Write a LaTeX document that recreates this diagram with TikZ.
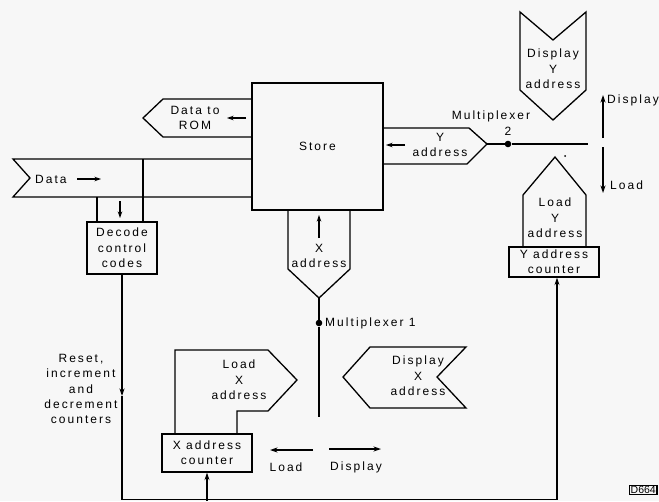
\documentclass[tikz,border=0pt]{standalone}
\usepackage{fontspec}
\newfontfamily\lbf{Liberation Sans}[LetterSpace=17]
\usetikzlibrary{arrows.meta}
\newcommand\diagfont{\lbf\fontsize{12}{15.3}\selectfont}
\tikzset{
  ln/.style={line width=1.3pt, line join=miter},
  box/.style={draw, ln, inner sep=0pt, align=center, font=\diagfont},
  lbl/.style={inner sep=0pt, align=center, font=\diagfont},
  arr/.style={ln, -{Stealth[length=7.5pt,width=5pt]}},
  sarr/.style={ln, -{Stealth[length=6.5pt,width=4.5pt]}},
  dot/.style={circle, fill, inner sep=0pt, minimum size=6.6pt},
}
\begin{document}
\begin{tikzpicture}[x=1pt,y=-1pt]
\fill[black!3] (0,0) rectangle (659,501);
\useasboundingbox (0,0) rectangle (659,501);

% Store
\node[box, minimum width=131pt, minimum height=127pt] (store) at (317.5,146.5) {Store};

% Data to ROM
\draw[ln] (252,99) -- (163,99) -- (143,118) -- (163,137) -- (252,137);
\node[lbl] (dtr) at (195,118) {Data to\\ROM};
\coordinate (dtrA) at (246,118); \coordinate (dtrB) at (227,118);
\draw[sarr] (dtrA) -- (dtrB);

% Data band
\draw[ln] (252,159) -- (13,159) -- (30,178) -- (13,197) -- (252,197);
\node[lbl, anchor=west] (data) at (35,179) {Data};
\coordinate (daA) at (77,179); \coordinate (daB) at (101,179);
\draw[sarr] (daA) -- (daB);

% Decode control codes
\node[box, minimum width=70pt, minimum height=52pt] (dec) at (122,248) {Decode\\control\\codes};
\draw[ln] (143,159) -- (143,222);
\draw[ln] (97,197) -- (97,222);
\coordinate (dcA) at (120,201); \coordinate (dcB) at (120,218);
\draw[sarr] (dcA) -- (dcB);

% Y address
\draw[ln] (383,128) -- (469,128) -- (487,144) -- (467,164) -- (383,164);
\node[lbl] (yad) at (440,145) {Y\\address};
\coordinate (yaA) at (405,145); \coordinate (yaB) at (386,145);
\draw[sarr] (yaA) -- (yaB);

% Multiplexer 2
\coordinate (ytip) at (487,144);
\node[dot] (mux2) at (508,144) {};
\coordinate (m2end) at (588,144);
\draw[ln] (ytip) -- (mux2) -- (m2end);
\node[lbl] (m2lbl) at (491,116) {Multiplexer};
\node[lbl] (m2num) at (508,131) {2};
\fill (565,156) circle (1);

% Display / Load switch arrows (right)
\coordinate (dA) at (603,138); \coordinate (dB) at (603,95);
\draw[arr] (dA) -- (dB);
\node[lbl, anchor=west] (dispR) at (607,100) {Display};
\coordinate (lA) at (603,147); \coordinate (lB) at (603,193);
\draw[arr] (lA) -- (lB);
\node[lbl, anchor=west] (loadR) at (610,185) {Load};

% Display Y address
\draw[ln] (520,12) -- (553,40) -- (586,12) -- (586,90) -- (553,120) -- (520,90) -- cycle;
\node[lbl] (dya) at (553,69) {Display\\Y\\address};

% Load Y address
\draw[ln] (523,247) -- (523,195) -- (555,157) -- (586,195) -- (586,247);
\node[lbl] (lya) at (555,218) {Load\\Y\\address};

% Y address counter
\node[box, minimum width=90pt, minimum height=30pt] (ycnt) at (554,262) {Y address\\counter};

% X address
\draw[ln] (288,210) -- (288,269) -- (319,298) -- (350,269) -- (350,210);
\coordinate (xaA) at (319,238); \coordinate (xaB) at (319,215);
\draw[sarr] (xaA) -- (xaB);
\node[lbl] (xad) at (319,256) {X\\address};

% Multiplexer 1
\coordinate (xtip) at (319,298);
\node[dot] (mux1) at (319,323) {};
\coordinate (m1end) at (319,417);
\draw[ln] (xtip) -- (mux1) -- (m1end);
\node[lbl, anchor=west] (m1lbl) at (325,323) {Multiplexer 1};

% Display X address
\draw[ln] (370,347) -- (466,347) -- (437,377) -- (466,408) -- (370,408) -- (343,377) -- cycle;
\node[lbl] (dxa) at (418,376) {Display\\X\\address};

% Load X address
\draw[ln] (175,434) -- (175,350) -- (268,350) -- (297,380) -- (268,411) -- (237,411) -- (237,434);
\node[lbl] (lxa) at (239,380) {Load\\X\\address};

% X address counter
\node[box, minimum width=90pt, minimum height=38pt] (xcnt) at (207,453) {X address\\counter};

% Load / Display arrows (bottom)
\coordinate (blA) at (313,450); \coordinate (blB) at (270,450);
\draw[arr] (blA) -- (blB);
\node[lbl] (loadB) at (286,467) {Load};
\coordinate (bdA) at (329,449); \coordinate (bdB) at (381,449);
\draw[arr] (bdA) -- (bdB);
\node[lbl] (dispB) at (356,467) {Display};

% Reset line
\node[lbl] (rst) at (81,389) {Reset,\\increment\\and\\decrement\\counters};
\coordinate (rstA) at (122,396);
\coordinate (botL) at (122,499.5);
\coordinate (botR) at (557,499.5);
\coordinate (botX) at (207,501);
\draw[arr] (dec.south) -- (rstA);
\draw[ln] (rstA) -- (botL) -- (botR);
\draw[arr] (botR) -- (ycnt.south -| botR);
\draw[arr] (botX) -- (xcnt.south);

% Figure number
\node[draw, line width=1.4pt, inner sep=1pt, anchor=west, font=\fontspec{Liberation Sans}\fontsize{10.5}{10.5}\selectfont] (fig) at (629,490) {D664};
\end{tikzpicture}
\end{document}
